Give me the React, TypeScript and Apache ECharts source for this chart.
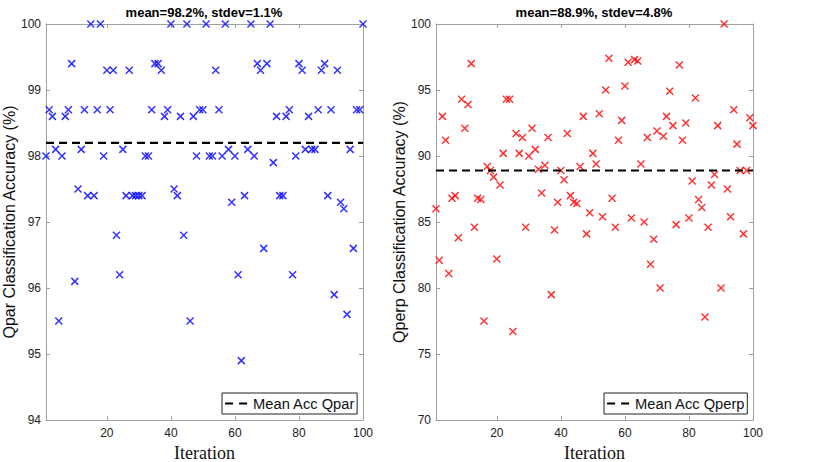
import React, { useEffect, useRef } from "react";
import * as echarts from "echarts";

// ---- data ----
const qparAcc = [
  98.0, 98.7, 98.6, 98.1, 95.5, 98.0, 98.6, 98.7, 99.4, 96.1,
  97.5, 98.1, 98.7, 97.4, 100, 97.4, 98.7, 100, 98.0, 99.3,
  98.7, 99.3, 96.8, 96.2, 98.1, 97.4, 99.3, 97.4, 97.4, 97.4,
  97.4, 98.0, 98.0, 98.7, 99.4, 99.4, 99.3, 98.6, 98.7, 100,
  97.5, 97.4, 98.6, 96.8, 100, 95.5, 98.6, 98.0, 98.7, 98.7,
  100, 98.0, 98.0, 99.3, 98.7, 98.0, 100, 98.1, 97.3, 98.0,
  96.2, 94.9, 97.4, 98.1, 100, 98.0, 99.4, 99.3, 96.6, 99.4,
  100, 97.9, 98.6, 97.4, 97.4, 98.6, 98.7, 96.2, 98.0, 99.4,
  99.3, 98.1, 98.6, 98.1, 98.1, 98.7, 99.3, 99.4, 97.4, 98.7,
  95.9, 99.3, 97.3, 97.2, 95.6, 98.1, 96.6, 98.7, 98.7, 100,
];

const qperpAcc = [
  86.0, 82.1, 93.0, 91.2, 81.1, 86.8, 87.0, 83.8, 94.3, 92.1,
  93.9, 97.0, 84.6, 86.8, 86.7, 77.5, 89.2, 88.9, 88.4, 82.2,
  87.8, 90.2, 94.3, 94.3, 76.7, 91.7, 90.2, 91.4, 84.6, 90.0,
  92.1, 90.5, 89.0, 87.2, 89.3, 91.4, 79.5, 84.4, 86.5, 88.9,
  88.2, 91.7, 87.0, 86.5, 86.4, 89.2, 93.0, 84.1, 85.7, 90.2,
  89.4, 93.2, 85.4, 95.0, 97.4, 86.8, 84.6, 91.2, 92.7, 95.3,
  97.1, 85.3, 97.3, 97.2, 89.4, 85.0, 91.4, 81.8, 83.7, 91.9,
  80.0, 91.5, 93.0, 94.9, 92.3, 84.8, 96.9, 91.2, 92.5, 85.3,
  88.1, 94.4, 86.7, 86.1, 77.8, 84.6, 87.8, 88.6, 92.3, 80.0,
  100, 87.5, 85.4, 93.5, 90.9, 88.9, 84.1, 88.9, 92.9, 92.3,
];

const qparMean = 98.2;
const qparStd = 1.1;
const qperpMean = 88.9;
const qperpStd = 4.8;

const iterRange = [1, 100];
const iterTicks = [20, 40, 60, 80, 100];
const qparYRange = [94, 100];
const qparYStep = 1;
const qperpYRange = [70, 100];
const qperpYStep = 5;

const qparLegend = "Mean Acc Qpar";
const qperpLegend = "Mean Acc Qperp";
const qparYName = "Qpar Classification Accuracy (%)";
const qperpYName = "Qperp Classification Accuracy (%)";
const xName = "Iteration";

// ---- styling ----
const AXIS_GRAY = "#a0a0a0";
const SANS = "Liberation Sans, Arial, sans-serif";
const SERIF = "Liberation Serif, Times New Roman, serif";
const CROSS = "path://M0,0L10,10M10,0L0,10";

function xAxisPair(gridIndex: number) {
  const common = {
    type: "value",
    gridIndex,
    min: iterRange[0],
    max: iterRange[1],
    axisLine: { show: true, lineStyle: { color: AXIS_GRAY, width: 1 } },
    axisTick: {
      show: true,
      inside: true,
      length: 4,
      customValues: iterTicks,
      lineStyle: { color: AXIS_GRAY },
    },
    splitLine: { show: false },
  };
  return [
    {
      ...common,
      position: "bottom",
      axisLabel: {
        show: true,
        customValues: iterTicks,
        margin: 7,
        color: "#222",
        fontSize: 12,
        fontFamily: SANS,
      },
      name: xName,
      nameLocation: "middle",
      nameGap: 21,
      nameTextStyle: { fontFamily: SERIF, fontSize: 18, lineHeight: 18, color: "#111" },
    },
    {
      ...common,
      position: "top",
      axisLabel: { show: false },
    },
  ];
}

function yAxisPair(gridIndex: number, range: number[], step: number, name: string) {
  const common = {
    type: "value",
    gridIndex,
    min: range[0],
    max: range[1],
    interval: step,
    axisLine: { show: true, lineStyle: { color: AXIS_GRAY, width: 1 } },
    axisTick: { show: true, inside: true, length: 4, lineStyle: { color: AXIS_GRAY } },
    splitLine: { show: false },
  };
  return [
    {
      ...common,
      position: "left",
      axisLabel: { show: true, margin: 5, color: "#222", fontSize: 12, fontFamily: SANS },
      name,
      nameLocation: "middle",
      nameGap: 29,
      nameTextStyle: { fontFamily: SANS, fontSize: 16, color: "#111" },
    },
    {
      ...common,
      position: "right",
      axisLabel: { show: false },
    },
  ];
}

function scatterSeries(values: number[], axisIdx: number, color: string) {
  return {
    type: "scatter",
    xAxisIndex: axisIdx,
    yAxisIndex: axisIdx,
    data: values.map((v, i) => [i + 1, v]),
    symbol: CROSS,
    symbolSize: 7,
    itemStyle: { color: "transparent", borderColor: color, borderWidth: 1.5 },
    clip: false,
    z: 2,
  };
}

function meanSeries(name: string, mean: number, axisIdx: number) {
  return {
    type: "line",
    name,
    xAxisIndex: axisIdx,
    yAxisIndex: axisIdx,
    data: [
      [iterRange[0], mean],
      [iterRange[1], mean],
    ],
    symbol: "none",
    lineStyle: { color: "#000", width: 2.2, type: [8, 5] },
    itemStyle: { color: "#000" },
    z: 3,
  };
}

function legendFor(name: string, left: number) {
  return {
    data: [name],
    left,
    top: 393,
    orient: "horizontal",
    padding: [3, 2, 3, 2],
    itemWidth: 23,
    itemHeight: 12,
    itemGap: 0,
    itemStyle: { opacity: 0 },
    lineStyle: { color: "#000", width: 2.2, type: [8, 6] },
    backgroundColor: "#fff",
    borderColor: "#222",
    borderWidth: 1,
    borderRadius: 0,
    textStyle: { fontFamily: SANS, fontSize: 14.7, color: "#111", lineHeight: 14 },
  };
}

export default function App() {
  const ref = useRef<HTMLDivElement>(null);

  useEffect(() => {
    if (!ref.current) return;
    const chart = echarts.init(ref.current, undefined, { renderer: "svg" });
    const [x0, x1] = xAxisPair(0);
    const [x2, x3] = xAxisPair(1);
    const [y0, y1] = yAxisPair(0, qparYRange, qparYStep, qparYName);
    const [y2, y3] = yAxisPair(1, qperpYRange, qperpYStep, qperpYName);

    const option = {
      animation: false,
      backgroundColor: "#fff",
      title: [
        {
          text: `mean=${qparMean.toFixed(1)}%, stdev=${qparStd.toFixed(1)}%`,
          left: 204,
          top: 6,
          padding: 0,
          textAlign: "center",
          textStyle: { fontFamily: SANS, fontSize: 13, fontWeight: "bold", color: "#000" },
        },
        {
          text: `mean=${qperpMean.toFixed(1)}%, stdev=${qperpStd.toFixed(1)}%`,
          left: 594,
          top: 6,
          padding: 0,
          textAlign: "center",
          textStyle: { fontFamily: SANS, fontSize: 13, fontWeight: "bold", color: "#000" },
        },
      ],
      grid: [
        { left: 46, top: 24, width: 317, height: 396, outerBoundsMode: "none", containLabel: false },
        { left: 436, top: 24, width: 317, height: 396, outerBoundsMode: "none", containLabel: false },
      ],
      xAxis: [x0, x1, x2, x3],
      yAxis: [y0, y1, y2, y3],
      legend: [legendFor(qparLegend, 222), legendFor(qperpLegend, 604)],
      series: [
        scatterSeries(qparAcc, 0, "#0000ff"),
        meanSeries(qparLegend, qparMean, 0),
        scatterSeries(qperpAcc, 2, "#ff0000"),
        meanSeries(qperpLegend, qperpMean, 2),
      ],
    };
    chart.setOption(option as any);
    return () => chart.dispose();
  }, []);

  return (
    <div
      ref={ref}
      style={{ position: "fixed", left: 0, top: 0, width: 826, height: 462, background: "#fff" }}
    />
  );
}
